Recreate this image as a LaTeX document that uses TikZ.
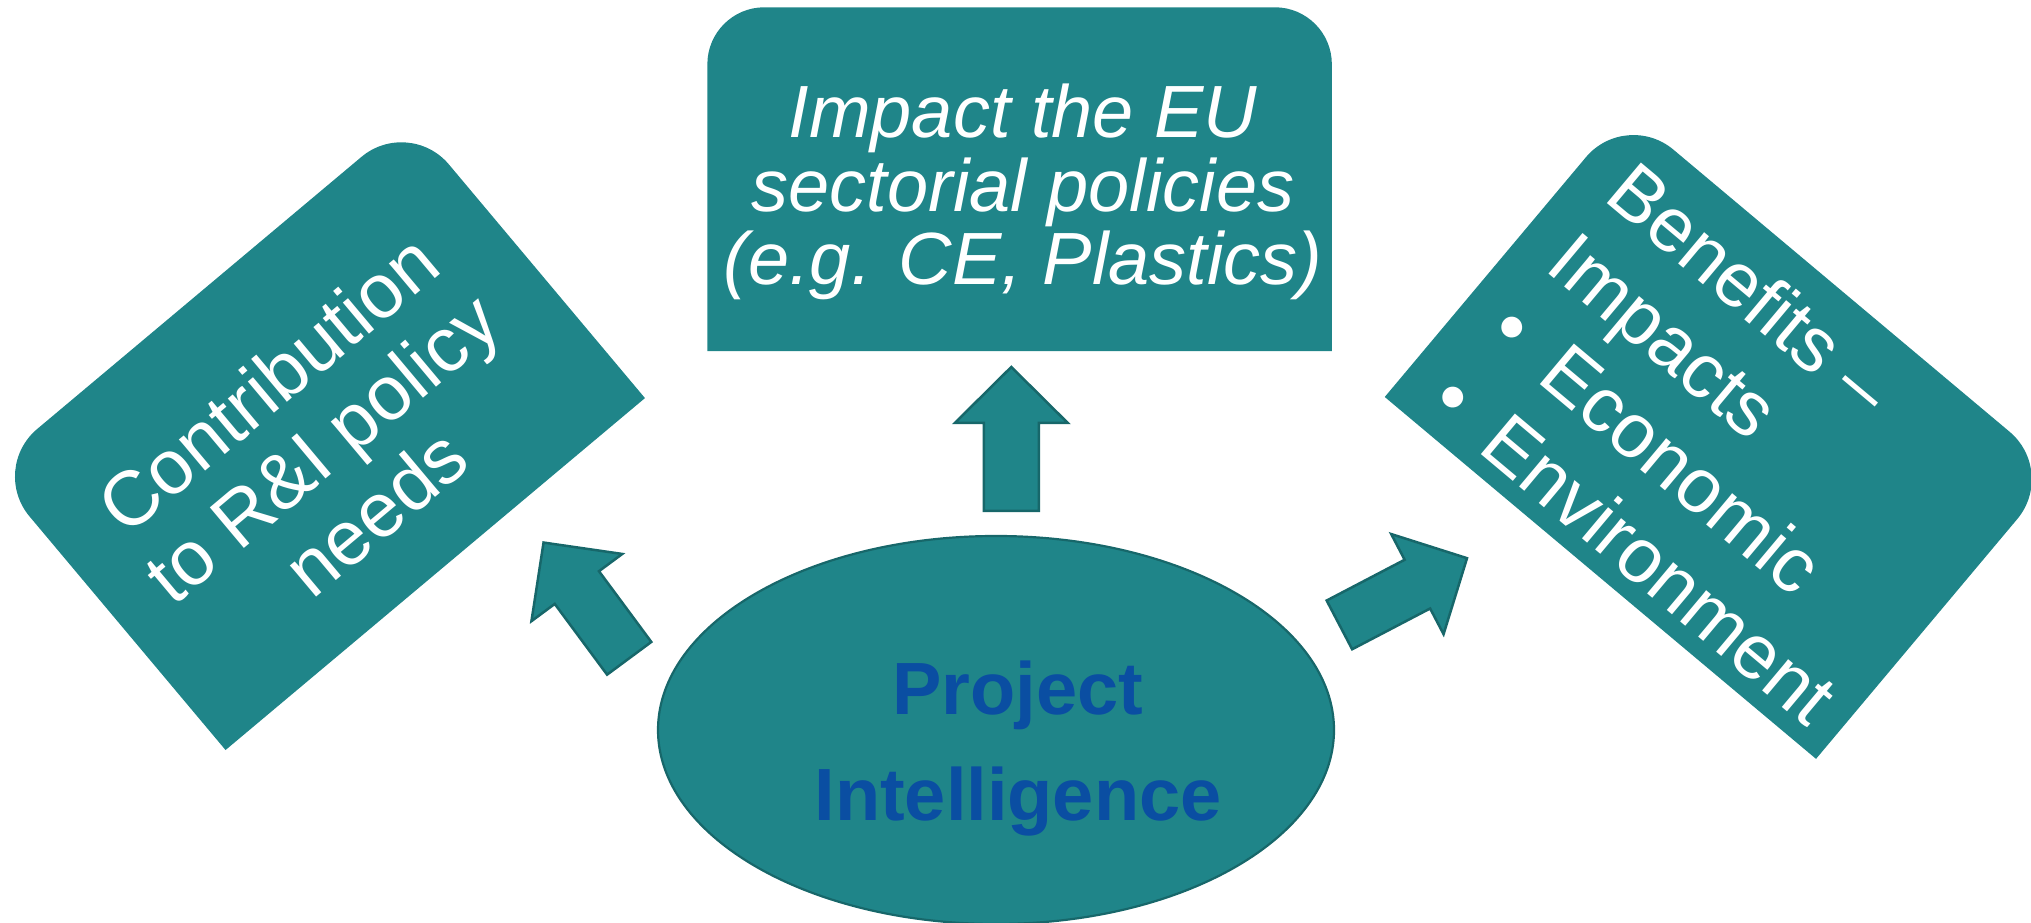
\documentclass[tikz,border=0pt]{standalone}
\usepackage{fontspec}
\setmainfont{Liberation Sans}
\definecolor{tealfill}{HTML}{1F8589}
\definecolor{tealline}{HTML}{17676A}
\definecolor{piblue}{HTML}{0A4EA2}
\tikzset{
  panel/.style={fill=tealfill},
  blockarrow/.style={fill=tealfill, draw=tealline, line width=2.5pt, line join=miter},
  ringline/.style={fill=tealfill, draw=tealline, line width=2.2pt},
  whitetext/.style={text=white, inner sep=0pt, font=\fontsize{77}{77}\selectfont},
  topfont/.style={text=white, inner sep=0pt, font=\fontsize{74}{74}\selectfont\itshape},
  bluetext/.style={text=piblue, inner sep=0pt, font=\fontsize{74}{74}\selectfont\bfseries},
}
\newcommand\roundtoppanel[3]{\fill[panel] (-#1/2,-#2/2) -- (-#1/2,#2/2-#3) arc[start angle=180,end angle=90,radius=#3] -- (#1/2-#3,#2/2) arc[start angle=90,end angle=0,radius=#3] -- (#1/2,-#2/2) -- cycle;}
\begin{document}
\begin{tikzpicture}[x=1pt,y=1pt]
\useasboundingbox (0,0) rectangle (2031,923);

% top box
\begin{scope}[shift={(1019.6,743.8)}]
  \roundtoppanel{624.5}{343.8}{57}
\end{scope}
\node[topfont, anchor=base] (tb1) at (1023,785) {Impact the EU};
\node[topfont, anchor=base] (tb2) at (1023,711.5) {sectorial policies};
\node[topfont, anchor=base] (tb3) at (1023,638) {(e.g. CE, Plastics)};

% left box
\begin{scope}[shift={(317.3,489.5)}, rotate=40, transform shape]
  \roundtoppanel{547.5}{367}{62}
  \node[whitetext, anchor=base] (l1) at (-6,43) {Contribution};
  \node[whitetext, anchor=base] (l2) at (-6,-41) {to R\&I policy};
  \node[whitetext, anchor=base] (l3) at (-6,-125) {needs};
\end{scope}

% right box
\begin{scope}[shift={(1720.9,488.7)}, rotate=-40, transform shape]
  \roundtoppanel{563}{375}{62}
  \node[whitetext, anchor=base west] (r1) at (-242,103.5) {Benefits –};
  \node[whitetext, anchor=base west] (r2) at (-242,12.5) {Impacts};
  \node[whitetext, anchor=base west] (r3b) at (-242,-78.5) {•};
  \node[whitetext, anchor=base west] (r3) at (-177,-78.5) {Economic};
  \node[whitetext, anchor=base west] (r4b) at (-242,-169.5) {•};
  \node[whitetext, anchor=base west] (r4) at (-177,-169.5) {Environment};
\end{scope}

% central ellipse
\draw[ringline] (996,193) ellipse [x radius=338, y radius=194];
\node[bluetext, anchor=base] (pi1) at (1018,208) {Project};
\node[bluetext, anchor=base] (pi2) at (1018,102) {Intelligence};

% block arrows
\begin{scope}[shift={(1011.3,412)}, rotate=90]
  \draw[blockarrow] (0,-27.5) -- (88,-27.5) -- (88,-56.5) -- (144,0) -- (88,56.5) -- (88,27.5) -- (0,27.5) -- cycle;
\end{scope}
\begin{scope}[shift={(629.2,264.7)}, rotate=126.5]
  \draw[blockarrow] (0,-27.5) -- (88,-27.5) -- (88,-56.5) -- (144,0) -- (88,56.5) -- (88,27.5) -- (0,27.5) -- cycle;
\end{scope}
\begin{scope}[shift={(1339.4,298.1)}, rotate=27.6]
  \draw[blockarrow] (0,-27.5) -- (88,-27.5) -- (88,-56.5) -- (144,0) -- (88,56.5) -- (88,27.5) -- (0,27.5) -- cycle;
\end{scope}
\end{tikzpicture}
\end{document}
